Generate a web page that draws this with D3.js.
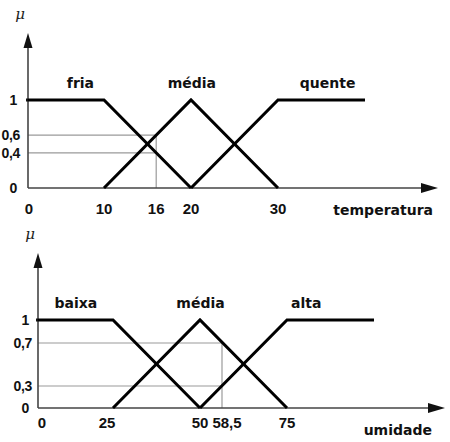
<!DOCTYPE html>
<html><head><meta charset="utf-8">
<script src="https://cdn.jsdelivr.net/npm/d3@7"></script>
<style>
body{margin:0;background:#fff;}
svg{display:block;}
.lbl{font-family:"DejaVu Sans",Verdana,sans-serif;font-weight:bold;font-size:14px;fill:#111;}
.tick{font-family:"Liberation Sans",Arial,sans-serif;font-weight:bold;font-size:15px;fill:#111;}
.ytick{font-family:"Liberation Sans",Arial,sans-serif;font-weight:bold;font-size:14px;fill:#111;letter-spacing:-0.3px;}
.mu{font-family:"DejaVu Serif","Liberation Serif",serif;font-style:italic;font-size:15px;fill:#222;}
</style></head>
<body>
<script>
// ---- data ----
const tempSets = ["fria", "média", "quente"];
const tempFria = [[0,1],[10,1],[20,0]];
const tempMedia = [[10,0],[20,1],[30,0]];
const tempQuente = [[20,0],[30,1],[40,1]];
const tempXTicks = [0, 10, 16, 20, 30];
const tempXTickLabels = ["0","10","16","20","30"];
const tempYTicks = [0, 0.4, 0.6, 1];
const tempYTickLabels = ["0","0,4","0,6","1"];
const tempInput = 16;
const tempGuides = [0.6, 0.4];

const umidSets = ["baixa", "média", "alta"];
const umidBaixa = [[0,1],[25,1],[50,0]];
const umidMedia = [[25,0],[50,1],[75,0]];
const umidAlta = [[50,0],[75,1],[100,1]];
const umidXTicks = [0, 25, 50, 58.5, 75];
const umidXTickLabels = ["0","25","50","58,5","75"];
const umidYTicks = [0, 0.3, 0.7, 1];
const umidYTickLabels = ["0","0,3","0,7","1"];
const umidInput = 58.5;
const umidGuides = [0.7, 0.3];

const W = 450, H = 442;
const svg = d3.select("body").append("svg").attr("width", W).attr("height", H);

function panel(cfg){
  const g = svg.append("g");
  const x = cfg.x, y = cfg.y;
  const x0 = x(0), y0 = y(0);
  // guides
  cfg.guides.forEach(v => {
    g.append("line").attr("x1", x0).attr("x2", x(cfg.input))
      .attr("y1", y(v)).attr("y2", y(v)).attr("stroke", "#9a9a9a").attr("stroke-width", 1.2);
  });
  g.append("line").attr("x1", x(cfg.input)).attr("x2", x(cfg.input))
    .attr("y1", y(d3.max(cfg.guides))).attr("y2", y0).attr("stroke", "#9a9a9a").attr("stroke-width", 1.2);
  // axes
  g.append("line").attr("x1", x0).attr("x2", cfg.xEnd - 4).attr("y1", y0).attr("y2", y0)
    .attr("stroke", "#444").attr("stroke-width", 1.6);
  g.append("path").attr("d", `M${cfg.xEnd},${y0} L${cfg.xEnd-17},${y0-5} L${cfg.xEnd-17},${y0+5} Z`).attr("fill", "#111");
  g.append("line").attr("x1", x0).attr("x2", x0).attr("y1", y0).attr("y2", cfg.yEnd + 4)
    .attr("stroke", "#444").attr("stroke-width", 1.6);
  g.append("path").attr("d", `M${x0},${cfg.yEnd} L${x0-4.5},${cfg.yEnd+15} L${x0+4.5},${cfg.yEnd+15} Z`).attr("fill", "#111");
  g.append("line").attr("x1", x0-2).attr("x2", x0).attr("y1", y(1)).attr("y2", y(1)).attr("stroke","#111").attr("stroke-width",3);
  // mu
  g.append("text").attr("class","mu").attr("x", x0 - 8).attr("y", cfg.yEnd - 14).attr("text-anchor","middle").text("μ");
  // curves
  const line = d3.line().x(d => x(d[0])).y(d => y(d[1]));
  cfg.curves.forEach(c => {
    g.append("path").attr("d", line(c)).attr("fill","none").attr("stroke","#000")
      .attr("stroke-width", 3).attr("stroke-linejoin","miter");
  });
  // set labels
  cfg.sets.forEach((s, i) => {
    g.append("text").attr("class","lbl").attr("x", x(cfg.labelX[i])).attr("y", y(1) - 12)
      .attr("text-anchor","middle").text(s);
  });
  // x ticks
  cfg.xTicks.forEach((t, i) => {
    g.append("text").attr("class","tick").attr("x", x(t) + (cfg.xTickDx[i]||0)).attr("y", y0 + cfg.xLabelDy)
      .attr("text-anchor","middle").text(cfg.xTickLabels[i]);
  });
  // y ticks
  cfg.yTicks.forEach((t, i) => {
    const lab = cfg.yTickLabels[i];
    const off = lab.length > 1 ? cfg.yLabelDx - 3 : cfg.yLabelDx;
    g.append("text").attr("class","ytick").attr("x", x0 - off).attr("y", y(t))
      .attr("dy","0.36em").attr("text-anchor","end").text(lab);
  });
  // axis title
  g.append("text").attr("class","lbl").attr("x", cfg.titleX).attr("y", y0 + cfg.titleDy)
    .attr("text-anchor","end").text(cfg.title);
}

panel({
  x: d3.scaleLinear().domain([0,10,40]).range([28,104,365]),
  y: d3.scaleLinear().domain([0,1]).range([188,100]),
  xEnd: 438, yEnd: 33,
  curves: [tempFria, tempMedia, tempQuente],
  sets: tempSets, labelX: [6.9, 20.1, 35.7],
  guides: tempGuides, input: tempInput,
  xTicks: tempXTicks, xTickLabels: tempXTickLabels, xTickDx: [1,0,0,0,0],
  yTicks: tempYTicks, yTickLabels: tempYTickLabels, yLabelDx: 11,
  xLabelDy: 26, title: "temperatura", titleX: 433, titleDy: 27
});

panel({
  x: d3.scaleLinear().domain([0,25,50,58.5,75,100]).range([38,113,200,222,287,374]),
  y: d3.scaleLinear().domain([0,0.3,0.7,1]).range([408,386,343,320]),
  xEnd: 445, yEnd: 253,
  curves: [umidBaixa, umidMedia, umidAlta],
  sets: umidSets, labelX: [12.6, 50.2, 80.5],
  guides: umidGuides, input: umidInput,
  xTicks: umidXTicks, xTickLabels: umidXTickLabels, xTickDx: [4,-6,0,5,0],
  yTicks: umidYTicks, yTickLabels: umidYTickLabels, yLabelDx: 9,
  xLabelDy: 20, title: "umidade", titleX: 432, titleDy: 27
});
</script>
</body></html>
